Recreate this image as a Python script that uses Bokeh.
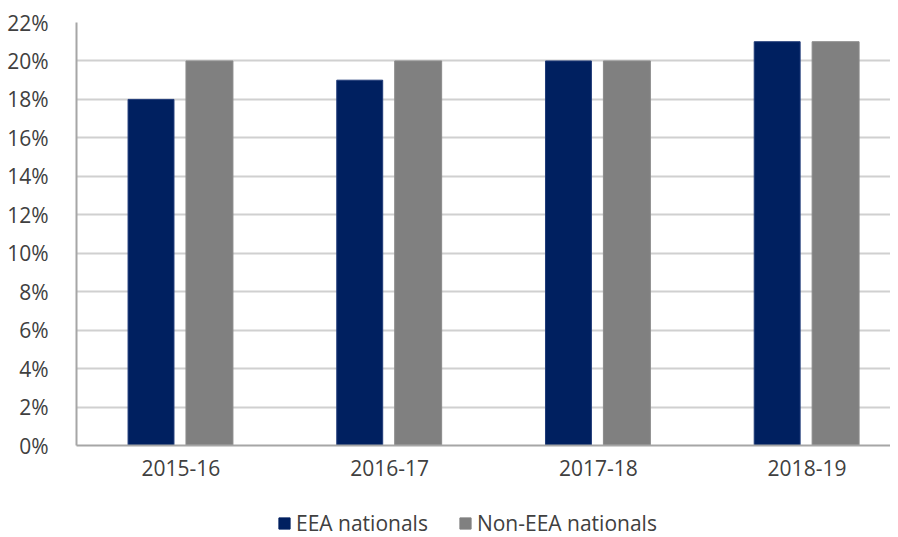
from bokeh.plotting import figure
from bokeh.layouts import column
from bokeh.models import (ColumnDataSource, FixedTicker,
                          NumeralTickFormatter, Range1d, Legend, LegendItem)
from bokeh.transform import dodge
from bokeh.embed import file_html
from bokeh.resources import INLINE

categories = ["2015-16", "2016-17", "2017-18", "2018-19"]
eea = [0.18, 0.19, 0.20, 0.21]
non_eea = [0.20, 0.20, 0.20, 0.21]
series_names = ["EEA nationals", "Non-EEA nationals"]
series_colors = ["#002060", "#808080"]
y_ticks = [0.0, 0.02, 0.04, 0.06, 0.08, 0.10, 0.12, 0.14, 0.16, 0.18, 0.20, 0.22]

positions = [i + 0.5 for i in range(len(categories))]
src = ColumnDataSource(dict(x=positions, eea=eea, non=non_eea, cat=categories))

FONT = "Open Sans"
TXT = "#404040"

p = figure(frame_width=814, frame_height=423, output_backend="svg", toolbar_location=None,
           x_range=Range1d(0, 3.90), y_range=Range1d(0, 0.22),
           min_border_left=76, min_border_right=0, min_border_top=22,
           min_border_bottom=45)
p.outline_line_color = None
p.background_fill_color = "white"
p.border_fill_color = "white"

p.vbar(x=dodge("x", -0.143, range=p.x_range), top="eea", width=0.22, source=src,
       fill_color=series_colors[0], line_color="#1f3a78", line_width=1)
p.vbar(x=dodge("x", 0.137, range=p.x_range), top="non", width=0.225, source=src,
       fill_color=series_colors[1], line_color="#8a8a8a", line_width=1)

p.xgrid.grid_line_color = None
p.ygrid.grid_line_color = "#d0d0d0"
p.ygrid.grid_line_width = 2
p.yaxis.ticker = FixedTicker(ticks=y_ticks)
p.yaxis.formatter = NumeralTickFormatter(format="0%")
p.xaxis.ticker = FixedTicker(ticks=positions)
p.xaxis.major_label_overrides = {pos: c for pos, c in zip(positions, categories)}

for ax in (p.xaxis, p.yaxis):
    ax.major_tick_line_color = None
    ax.minor_tick_line_color = None
    ax.axis_line_color = "#a6a6a6"
    ax.axis_line_width = 2
    ax.major_label_text_font = FONT
    ax.major_label_text_font_size = "21px"
    ax.major_label_text_color = TXT
p.yaxis.major_label_standoff = 22
p.xaxis.major_label_standoff = 8

# legend strip underneath (its bars sit outside its visible range; only the legend shows)
lf = figure(width=890, height=47, output_backend="svg", toolbar_location=None,
            x_range=Range1d(0, 4), y_range=Range1d(10, 11),
            min_border_left=0, min_border_right=0, min_border_top=0, min_border_bottom=0)
lf.axis.visible = False
lf.grid.visible = False
lf.outline_line_color = None
lr1 = lf.vbar(x="x", top="eea", width=0.2, source=src,
              fill_color=series_colors[0], line_color=series_colors[0])
lr2 = lf.vbar(x="x", top="non", width=0.2, source=src,
              fill_color=series_colors[1], line_color=series_colors[1])

legend = Legend(items=[LegendItem(label=series_names[0], renderers=[lr1]),
                       LegendItem(label=series_names[1], renderers=[lr2])],
                orientation="horizontal", location=(201, 0),
                label_text_font=FONT, label_text_font_size="21px",
                label_text_color=TXT, glyph_width=14, glyph_height=14,
                label_standoff=5, spacing=30, border_line_color=None,
                background_fill_alpha=0, padding=0, margin=0)
lf.add_layout(legend, "center")

layout = column(p, lf, spacing=0)
open("out.html", "w").write(file_html(layout, INLINE))
